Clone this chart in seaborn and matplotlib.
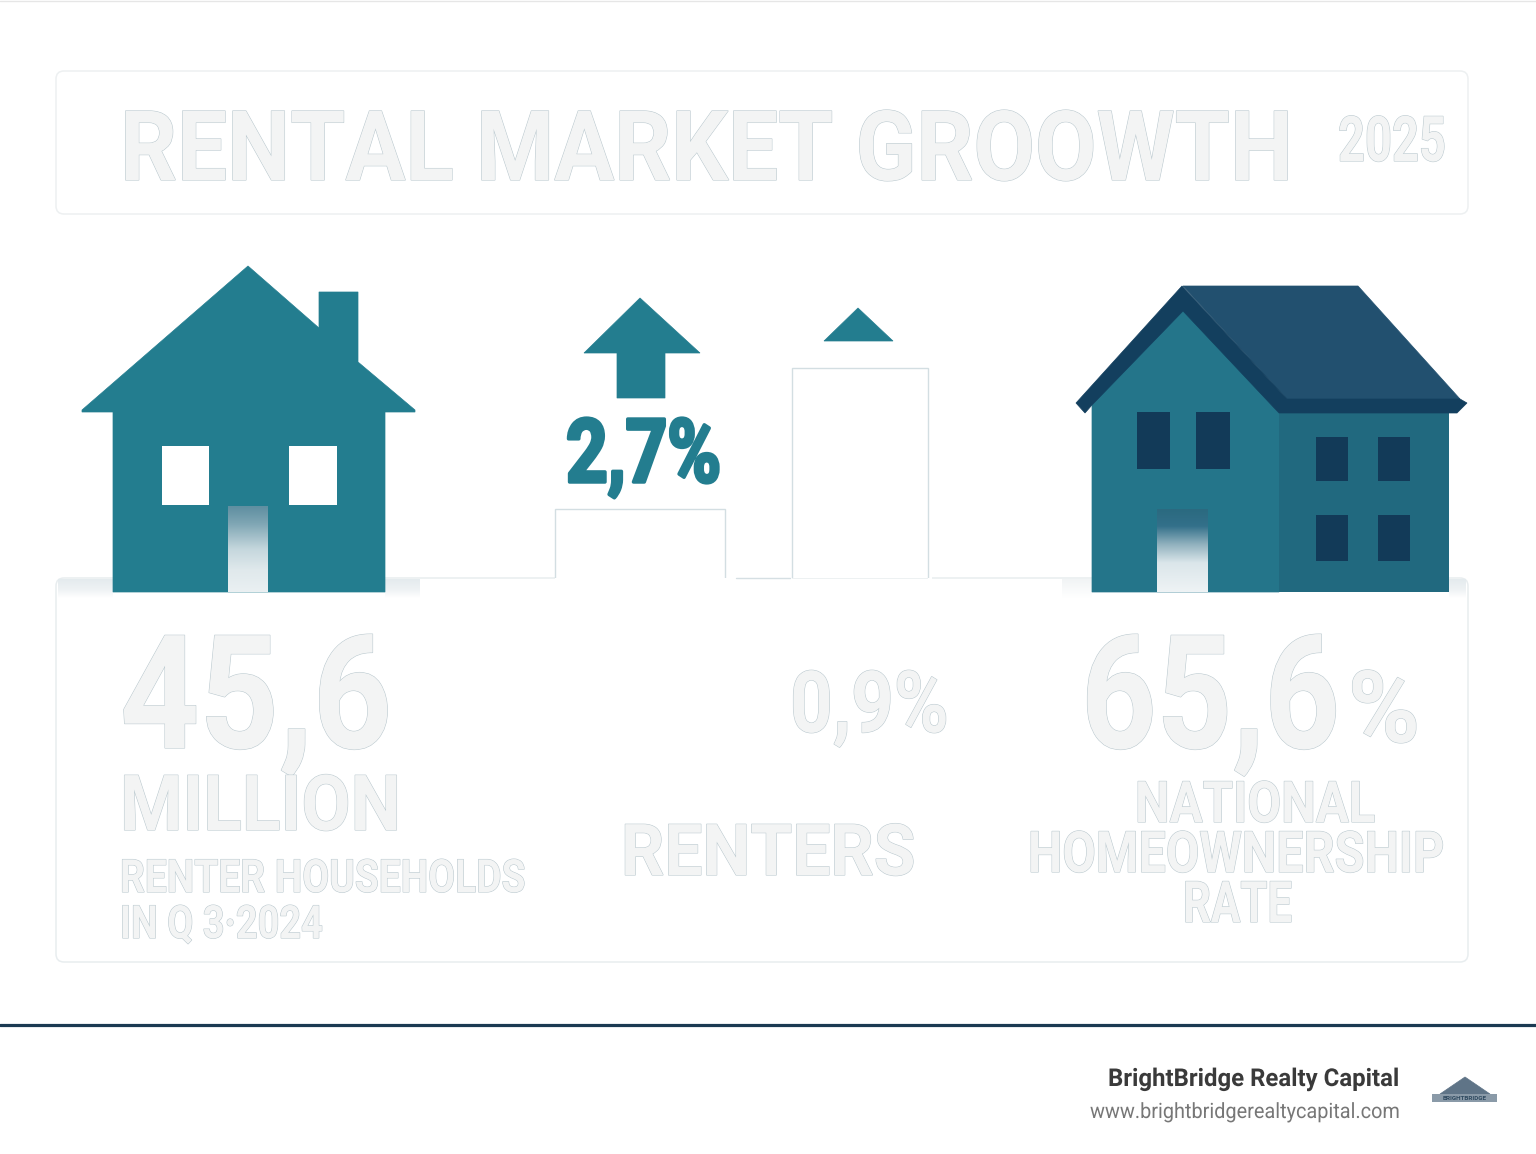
import numpy as np
import pandas as pd
import matplotlib
matplotlib.use("Agg")
import matplotlib.pyplot as plt
import matplotlib.patheffects as pe
from matplotlib.patches import Polygon, Rectangle, FancyBboxPatch
from matplotlib.colors import to_rgba
from matplotlib.transforms import Affine2D
from matplotlib import font_manager as fm
import seaborn as sns

# ---- data ----
title_text = "RENTAL MARKET GROOWTH"
year_text = "2025"
renter_value = "45,6"
renter_unit = "MILLION"
renter_caption = ["RENTER HOUSEHOLDS", "IN Q 3·2024"]
growth_labels = ["2,7%", "0,9%"]
growth_caption = "RENTERS"
home_value = "65,6"
home_caption = ["NATIONAL", "HOMEOWNERSHIP", "RATE"]
bar_categories = ["short", "tall"]
bar_values = [0.9, 2.7]
brand = "BrightBridge Realty Capital"
url = "www.brightbridgerealtycapital.com"

W, H = 1536, 1154
TEAL = "#237d8f"
sns.set_theme(style="white")
plt.rcParams["font.family"] = ["Roboto", "DejaVu Sans"]
names = {f.name for f in fm.fontManager.ttflist}
DISPLAY = "Liberation Sans Narrow" if "Liberation Sans Narrow" in names else "Roboto"

fig = plt.figure(figsize=(W / 100, H / 100), dpi=100, facecolor="white")
ax = fig.add_axes([0, 0, 1, 1])
ax.set_xlim(0, W)
ax.set_ylim(H, 0)
ax.axis("off")
renderer = fig.canvas.get_renderer()


class Fit(pe.AbstractPathEffect):
    """Scale a text horizontally about its anchor."""

    def __init__(self, sx, x0, inner):
        super().__init__()
        self.sx, self.x0, self.inner = sx, x0, inner

    def draw_path(self, renderer, gc, tpath, affine, rgbFace=None):
        t = affine + Affine2D().translate(-self.x0, 0).scale(self.sx, 1).translate(self.x0, 0)
        self.inner.draw_path(renderer, gc, tpath, t, rgbFace)


def poly(pts, color, z=3):
    ax.add_patch(Polygon(pts, closed=True, fc=color, ec=color, lw=0.5, zorder=z))


def rect(x0, y0, x1, y1, color, z=4):
    ax.add_patch(Rectangle((x0, y0), x1 - x0, y1 - y0, fc=color, ec="none", zorder=z))


def fade(x0, y0, x1, y1, stops, z=2):
    pos = [s[0] for s in stops]
    cols = np.array([to_rgba(s[1]) for s in stops])
    t = np.linspace(0, 1, 64)
    g = np.stack([np.interp(t, pos, cols[:, i]) for i in range(4)], axis=-1)
    ax.imshow(g[:, None, :], extent=(x0, x1, y1, y0), origin="upper", aspect="auto",
              interpolation="bilinear", zorder=z)
    ax.set_xlim(0, W)
    ax.set_ylim(H, 0)


def label(x0, x1, y, s, cap, weight="bold", color="#f3f4f4", edge="#bccad0", family=None, lw=0.8, anchor="left"):
    """Text spanning pixel columns x0..x1 with baseline y and capital height cap."""
    px = cap / 0.70
    x = x0 if anchor == "left" else x1
    t = ax.text(x, y, s, fontsize=px * 0.72, ha=anchor, va="baseline", color=color,
                fontweight=weight, zorder=6, family=family or [DISPLAY, "DejaVu Sans"])
    sx = (x1 - x0) / t.get_window_extent(renderer).width
    fx = []
    if edge:
        fx.append(Fit(sx, x, pe.Stroke(linewidth=lw, foreground=edge)))
    fx.append(Fit(sx, x, pe.Normal()))
    t.set_path_effects(fx)
    return t


# page furniture
ax.plot([0, W], [0.5, 0.5], color="#e6e6e6", lw=1, zorder=1)
ax.plot([0, W], [1025, 1025], color="#1b3a52", lw=2.3, zorder=1)

# panels
ax.add_patch(FancyBboxPatch((56, 71), 1412, 143, boxstyle="round,pad=0,rounding_size=8",
                            fc="white", ec="#edf0f1", lw=1.1, zorder=1))
ax.add_patch(FancyBboxPatch((56, 578), 1412, 384, boxstyle="round,pad=0,rounding_size=8",
                            fc="white", ec="#e8edef", lw=1.1, zorder=1))
rect(555, 574, 792, 583, "white", z=1.5)
rect(928, 574, 932, 583, "white", z=1.5)
ax.plot([736, 790], [578, 578], color="#d5dfe3", lw=1, zorder=1.6)

# soft shadows around the house feet
shade = [(0, "#e4ebee"), (0.55, "#eef2f4"), (1, "#ffffff")]
fade(58, 579, 113, 598, shade)
fade(385, 579, 420, 598, shade)
fade(1062, 579, 1092, 598, [(0, "#f1f4f5"), (1, "#ffffff")])
fade(1449, 579, 1466, 598, shade)

# left house
poly([(248, 266), (319, 328), (319, 292), (358, 292), (358, 362), (415, 410), (415, 412),
      (385, 412), (385, 592), (113, 592), (113, 412), (82, 412), (82, 410)], TEAL)
rect(162, 446, 209, 505, "white")
rect(289, 446, 337, 505, "white")
fade(228, 506, 268, 592, [(0, "#5f8fa1"), (0.2, "#7fa6b4"), (0.5, "#c5d7dd"), (0.75, "#e0e9ec"), (1, "#eaf0f2")], z=5)

# right house
poly([(1183, 300), (1279, 413), (1279, 592), (1092, 592), (1092, 405)], "#24758a", z=3)
rect(1279, 410, 1449, 592, "#21697f", z=3)
poly([(1183, 286), (1358, 286), (1460, 399), (1287, 399)], "#22506f", z=3.5)
poly([(1182, 286), (1287, 399), (1460, 399), (1467, 403), (1457, 413), (1279, 413),
      (1183, 311), (1092, 405), (1085, 413), (1076, 403)], "#133f5e", z=3.6)
for x0, y0, x1, y1 in [(1137, 412, 1170, 469), (1196, 412, 1230, 469),
                       (1316, 437, 1348, 481), (1378, 437, 1410, 481),
                       (1316, 515, 1348, 561), (1378, 515, 1410, 561)]:
    rect(x0, y0, x1, y1, "#123a58")
fade(1157, 509, 1208, 592, [(0, "#2b6a80"), (0.2, "#33708a"), (0.42, "#8fb0bd"), (0.65, "#dbe6ea"), (1, "#eef3f5")], z=5)

# arrows
poly([(640, 298), (700, 353), (665, 353), (665, 398), (617, 398), (617, 353), (584, 353)], TEAL)
poly([(858, 308), (893, 341), (824, 341)], TEAL)

# bars, through seaborn
bar_ax = fig.add_axes([530 / W, (H - 578) / H, 440 / W, 233.3 / H], facecolor="none")
bar_ax.set_zorder(5)
frame = pd.DataFrame({"kind": bar_categories, "value": bar_values})
sns.barplot(data=frame, x="kind", y="value", ax=bar_ax, color="white", saturation=1,
            edgecolor="#d3dee2", linewidth=1.0, width=0.7)
bar_ax.set_xlim(-0.5, 1.5)
bar_ax.set_ylim(0.012, 3)
bar_ax.axis("off")
for patch, px_w in zip(bar_ax.patches, [170, 136]):
    c = patch.get_x() + patch.get_width() / 2
    w = px_w / 220
    patch.set_x(c - w / 2)
    patch.set_width(w)

# headline
label(120, 1293, 180, title_text, 68)
label(1338, 1446, 161, year_text, 44)
# left column
label(120, 392, 748, renter_value, 111)
label(120, 401, 830, renter_unit, 54)
label(120, 526, 892, renter_caption[0], 32)
label(120, 323, 938, renter_caption[1], 32)
# middle column
label(566, 721, 482, growth_labels[0], 62, color=TEAL, edge=TEAL, lw=2.5)
label(790, 949, 732, growth_labels[1], 60)
label(621, 915, 875, growth_caption, 50)
# right column
label(1081, 1340, 748, home_value, 111)
label(1348, 1420, 742, "%", 70)
label(1135, 1375, 822, home_caption[0], 40)
label(1028, 1444, 872, home_caption[1], 40)
label(1183, 1292, 922, home_caption[2], 40)

# footer
label(1108, 1400, 1086, brand, 17.2, color="#3a3a3a", edge=None, family=["Roboto", "DejaVu Sans"], anchor="right")
label(1090, 1400, 1118, url, 14.8, weight="normal", color="#777777", edge=None, family=["Roboto", "DejaVu Sans"], anchor="right")

# small logo
poly([(1465, 1077), (1490, 1094), (1440, 1094)], "#5f7487", z=3)
rect(1432, 1094, 1497, 1102, "#8a9aa8", z=3)
ax.text(1464.5, 1099, "BRIGHTBRIDGE", fontsize=4.6, ha="center", va="center", color="#2f4a60",
        fontweight="bold", zorder=5)

fig.savefig("out.png", dpi=100, facecolor="white")
